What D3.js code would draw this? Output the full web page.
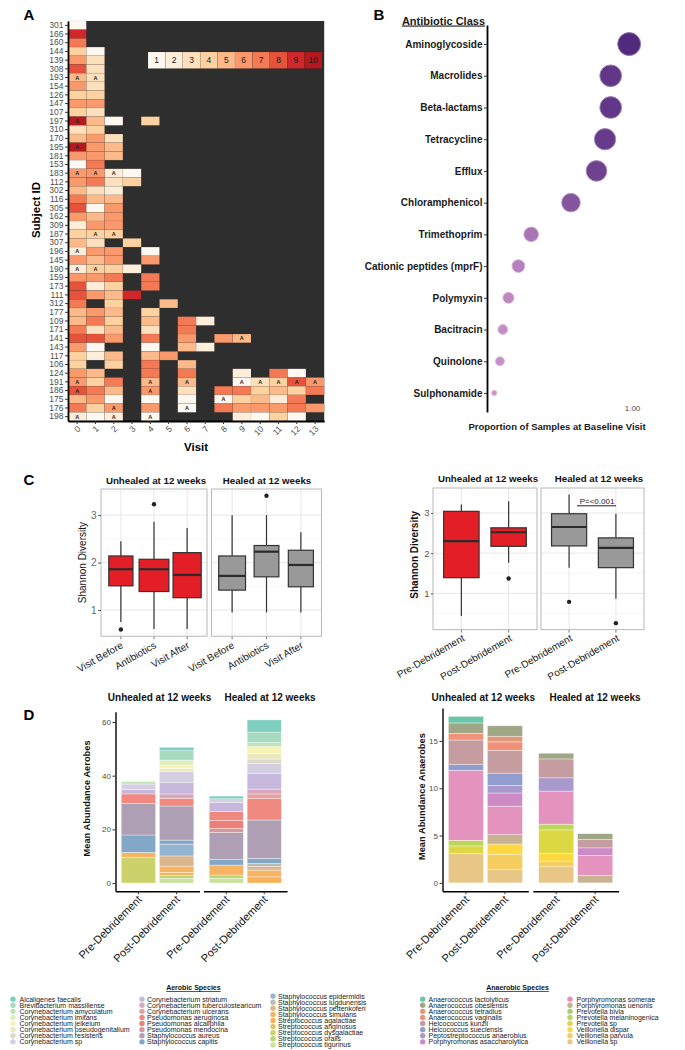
<!DOCTYPE html>
<html>
<head>
<meta charset="utf-8">
<script src="https://cdn.jsdelivr.net/npm/d3@7/dist/d3.min.js"></script>
<style>
html,body{margin:0;padding:0;background:#fff;}
svg{display:block;}
text{font-family:"Liberation Sans",Arial,Helvetica,sans-serif;}
</style>
</head>
<body>
<svg id="fig" width="685" height="1050" viewBox="0 0 685 1050"></svg>
<script>
// ======================= DATA =======================
// Panel A – heatmap
const subjectIds = ["301","166","160","144","139","308","193","154","126","147","107","197","310","170","195","181","153","183","112","302","116","305","162","309","187","307","196","145","190","159","173","111","312","177","109","171","141","143","117","106","124","191","186","175","176","198"];
const visitLabels = ["0","1","2","3","4","5","6","7","8","9","10","11","12","13"];
const heatLevels = [1,2,3,4,5,6,7,8,9,10];
const n = null;
const heatCounts = [
 [1],[9],[7],[4,1],[6,3],[8,3],[5,3],[6,3],[4,4],[6,6],[4,3],
 [10,5,1,n,4],
 [3,4],[5,6,3],[10,6,5],[6,6,5],[1,7],[6,6,2,1],[6,7,3,4],[5,3,2],[7,5,5],[8,1,6],[6,5,6],[2,6,6],[4,4,4],
 [5,3,n,4],
 [2,6,6,n,1],
 [6,5,6,n,6],
 [2,4,4,2],
 [6,6,7,n,7],
 [8,2,4,n,7],
 [8,6,5,9],
 [7,n,4,n,n,5],
 [5,6,5,n,4],
 [5,7,4,n,5,n,7,2],
 [7,3,5,n,3,n,7],
 [8,8,6,n,7,n,6,n,6,5],
 [6,1,n,n,1,n,5,2],
 [4,2,5,n,5,6],
 [4,n,4,n,7,n,5],
 [6,5,n,n,7,n,7,n,n,2,n,7,1],
 [6,4,7,n,5,n,5,n,n,1,3,4,8,6],
 [8,7,5,n,6,n,3,n,7,7,4,5,4,7],
 [5,6,1,n,1,n,1,n,1,4,5,2,7],
 [7,4,6,n,6,n,1,n,7,6,6,6,7,6],
 [2,1,2,n,1,n,n,n,n,2,1,4,1]
];
const antibioticVisits = [
 ["193",0],["193",1],["197",0],["195",0],["183",0],["183",1],["183",2],["187",1],["187",2],
 ["196",0],["190",0],["190",1],["141",9],
 ["191",0],["191",4],["191",6],["191",9],["191",10],["191",11],["191",12],["191",13],
 ["186",0],["186",4],["175",8],["176",2],["176",6],["198",0],["198",2],["198",4]
];

// Panel B – antibiotic resistance classes
const abxClasses = ["Aminoglycoside","Macrolides","Beta-lactams","Tetracycline","Efflux","Chloramphenicol","Trimethoprim","Cationic peptides (mprF)","Polymyxin","Bacitracin","Quinolone","Sulphonamide"];
const abxProportion = [0.98,0.85,0.85,0.81,0.75,0.57,0.29,0.20,0.13,0.09,0.07,0.03];
const abxTicks = [1];

// Panel C – Shannon diversity (lower whisker, Q1, median, Q3, upper whisker)
const visitGroups = ["Visit Before","Antibiotics","Visit After"];
const shannonVisitUnhealed = [[0.75,1.51,1.86,2.14,2.45],[0.60,1.39,1.86,2.07,2.86],[0.60,1.26,1.74,2.21,2.73]];
const shannonVisitUnhealedOut = [[0.59],[3.23],[]];
const shannonVisitHealed = [[0.95,1.42,1.72,2.14,3.00],[0.95,1.70,2.23,2.36,3.00],[0.95,1.49,1.95,2.26,2.64]];
const shannonVisitHealedOut = [[],[3.41],[]];
const debridementGroups = ["Pre-Debridement","Post-Debridement"];
const shannonDebUnhealed = [[0.44,1.39,2.30,3.04,3.21],[1.76,2.17,2.52,2.63,3.29]];
const shannonDebUnhealedOut = [[],[1.37]];
const shannonDebHealed = [[1.64,2.18,2.65,2.98,3.46],[0.87,1.64,2.13,2.38,2.98]];
const shannonDebHealedOut = [[0.79],[0.26]];
const shannonTicks = [1,2,3];
const pValueLabel = "P=<0.001";
const outcomeTitles = ["Unhealed at 12 weeks","Healed at 12 weeks"];

// Panel D – mean abundances
const aerobicSpecies = ["Alcaligenes faecalis","Brevibacterium massiliense","Corynebacterium amycolatum","Corynebacterium imitans","Corynebacterium jeikeium","Corynebacterium pseudogenitalium","Corynebacterium resistens","Corynebacterium sp","Corynebacterium striatum","Corynebacterium tuberculostearicum","Corynebacterium ulcerans","Pseudomonas aeruginosa","Pseudomonas alcaliphila","Pseudomonas mendocina","Staphylococcus aureus","Staphylococcus capitis","Staphylococcus epidermidis","Staphylococcus lugdunensis","Staphylococcus pettenkoferi","Staphylococcus simulans","Streptococcus agalactiae","Streptococcus anginosus","Streptococcus dysgalactiae","Streptococcus oralis","Streptococcus tigurinus"];
const aerobicUnhealedPre  = [0,0,0.9,0,0,0,0,2.0,1.7,0,0,3.5,0,0,11.8,6.5,0,0,0,1.8,0,0,9.6,0,0];
const aerobicUnhealedPost = [1.3,3.5,0,1.8,1.3,1.2,0,4.1,4.2,1.6,0,2.9,0,0,12.7,1.5,4.4,0,3.8,2.3,1.2,0,0,1.0,1.8];
const aerobicHealedPre    = [1.0,0,0,0,0,0,0,1.3,3.5,0,0,3.3,2.9,1.6,10.0,2.1,0,0,0,3.7,0,0,0,1.2,1.8];
const aerobicHealedPost   = [4.6,3.9,1.5,0,2.5,2.1,1.6,3.7,5.9,1.8,1.6,8.1,0,0,14.3,1.9,0,1.2,1.3,2.5,2.3,0,0,0,0];
const aerobicTicks = [0,20,40,60];

const anaerobicSpecies = ["Anaerococcus lactolyticus","Anaerococcus obesiensis","Anaerococcus tetradius","Anaerococcus vaginalis","Helcococcus kunzii","Helcococcus sueciensis","Peptostreptococcus anaerobius","Porphyromonas asaccharolytica","Porphyromonas somerae","Porphyromonas uenonis","Prevotella bivia","Prevotella melaninogenica","Prevotella sp","Veillonella dispar","Veillonella parvula","Veillonella sp"];
const anaerobicUnhealedPre  = [0.7,1.1,0,0.7,2.6,0.6,0,0,7.4,0,0,0.6,0.8,0,0,3.1];
const anaerobicUnhealedPost = [0,1.1,0.6,0.9,2.4,1.3,0.8,1.4,3.0,1.0,0,0,0,1.1,1.6,1.4];
const anaerobicHealedPre    = [0,0.6,0,0,2.0,0,1.4,0,3.5,0,0,0.6,2.5,0.8,0.6,1.7];
const anaerobicHealedPost   = [0,0.6,0,0,0.9,0,0,0.8,2.1,0.8,0,0,0,0,0,0];
const anaerobicTicks = [0,5,10,15];

// ======================= STYLE =======================
const FONT = '"Liberation Sans", Arial, Helvetica, sans-serif';
const heatPalette = ["#fff8f0","#feedd8","#fde0bd","#fdd2a0","#fcb98a","#fa9a6c","#f47a56","#e5533b","#d0272b","#b5191e"];
const outcomeFills = ["#e41e26","#999999"];
const aerobicColors = ["#7fcfc0","#a6dbc0","#c3e3b6","#deefbf","#f7f3b2","#ebe9c3","#dddacb","#d3cfe0","#c6b8dc","#d6a7bd","#e59f9f","#f0897f","#ee7f78","#d8979b","#ae9fb4","#83a7c7","#93b5d1","#bdbcae","#dab68e","#f6b363","#f5b25a","#dfc466","#ccd26b","#bad578","#c9e19b"];
const anaerobicColors = ["#6bc5a8","#a0a786","#dc9a78","#f0927a","#c59ca0","#909ecf","#aa99cd","#cc8bc5","#e493bf","#c9b292","#a6cf6b","#bcd65a","#dcd844","#fcd73f","#f4cc5f","#e8c686"];

const svg = d3.select("#fig");

function styleAxis(sel, o = {}) {
  const {size = 8, fill = "#4d4d4d", weight = "normal", tickColor = "#333", domainColor = "#000", domainWidth = 1, hideDomain = false} = o;
  sel.attr("font-family", FONT).attr("font-size", size);
  sel.selectAll(".tick text").attr("fill", fill).attr("font-weight", weight);
  sel.selectAll(".tick line").attr("stroke", tickColor);
  if (hideDomain) sel.select(".domain").remove();
  else sel.select(".domain").attr("stroke", domainColor).attr("stroke-width", domainWidth);
}
function label(g, x, y, s, o = {}) {
  const t = g.append("text").text(s)
    .attr("font-size", o.size || 10)
    .attr("font-weight", o.bold ? "bold" : "normal")
    .attr("fill", o.fill || "#000")
    .attr("text-anchor", o.anchor || "middle")
    .attr("transform", `translate(${x},${y})` + (o.rotate ? ` rotate(${o.rotate})` : "") + (o.sx ? ` scale(${o.sx},1)` : ""));
  if (o.underline) t.style("text-decoration", "underline");
  return t;
}

// Panel letters
[["A",29,20],["B",379,20],["C",29,485],["D",29,720]].forEach(([s,x,y]) => label(svg, x, y, s, {size:15, bold:true}));

// ======================= PANEL A =======================
{
  const g = svg.append("g");
  const x = d3.scaleBand().domain(visitLabels).range([68, 324.2]);
  const y = d3.scaleBand().domain(subjectIds).range([21, 421]);
  const color = d3.scaleOrdinal().domain(heatLevels).range(heatPalette);
  g.append("rect").attr("x", x.range()[0]).attr("y", y.range()[0])
    .attr("width", x.range()[1] - x.range()[0]).attr("height", y.range()[1] - y.range()[0]).attr("fill", "#2e2e2e");
  const cells = [];
  heatCounts.forEach((row, i) => row.forEach((v, j) => { if (v !== null) cells.push({id: subjectIds[i], visit: visitLabels[j], n: v}); }));
  g.selectAll("rect.cell").data(cells).join("rect").attr("class", "cell")
    .attr("x", d => x(d.visit)).attr("y", d => y(d.id))
    .attr("width", x.bandwidth()).attr("height", y.bandwidth())
    .attr("fill", d => color(d.n)).attr("stroke", "#000").attr("stroke-opacity", 0.12).attr("stroke-width", 0.5);
  g.selectAll("text.abx").data(antibioticVisits).join("text").attr("class", "abx")
    .attr("x", d => x(visitLabels[d[1]]) + x.bandwidth() / 2)
    .attr("y", d => y(d[0]) + y.bandwidth() / 2)
    .attr("dy", "0.36em").attr("text-anchor", "middle")
    .attr("font-size", 5.5).attr("font-weight", "bold").attr("fill", "#222").text("A");
  const xl = d3.scaleBand().domain(heatLevels).range([148, 322]);
  g.selectAll("rect.leg").data(heatLevels).join("rect").attr("class", "leg")
    .attr("x", d => xl(d)).attr("y", 52).attr("width", xl.bandwidth()).attr("height", 16.5)
    .attr("fill", d => color(d)).attr("stroke", "#000").attr("stroke-opacity", 0.15).attr("stroke-width", 0.5);
  g.selectAll("text.leg").data(heatLevels).join("text").attr("class", "leg")
    .attr("x", d => xl(d) + xl.bandwidth() / 2).attr("y", 60.3).attr("dy", "0.36em")
    .attr("text-anchor", "middle").attr("font-size", 8.5).attr("fill", "#1a1a1a").text(d => d);
  g.append("g").attr("transform", `translate(${x.range()[0]},0)`)
    .call(d3.axisLeft(y).tickSize(3).tickSizeOuter(0).tickPadding(1.5))
    .call(styleAxis, {size: 8.5, domainWidth: 1.8});
  const ax = g.append("g").attr("transform", `translate(0,${y.range()[1]})`)
    .call(d3.axisBottom(x).tickSize(3).tickSizeOuter(0))
    .call(styleAxis, {size: 8.5, domainWidth: 1.8});
  ax.selectAll(".tick text").attr("y", 0).attr("dy", 0).attr("text-anchor", "end")
    .attr("transform", "translate(4,8.5) rotate(-45)");
  label(g, 39.5, 210, "Subject ID", {size: 11.5, bold: true, rotate: -90});
  label(g, 196, 451, "Visit", {size: 11.5, bold: true});
}

// ======================= PANEL B =======================
{
  const g = svg.append("g");
  const y = d3.scalePoint().domain(abxClasses).range([25, 412]).padding(0.6);
  const x = d3.scaleLinear().domain([0, 1]).range([490, 632]);
  const [pMin, pMax] = d3.extent(abxProportion);
  const rArea = d3.scaleSqrt().domain([0, pMax - pMin]).range([0, 8.8]);
  const r = v => 2.7 + rArea(v - pMin);
  const c = d3.scaleLinear().domain([pMin, pMax]).range(["#cc94ca", "#51297d"]).interpolate(d3.interpolateLab);
  const pts = abxClasses.map((k, i) => ({k, v: abxProportion[i]}));
  g.selectAll("circle").data(pts).join("circle")
    .attr("cx", d => x(d.v)).attr("cy", d => y(d.k)).attr("r", d => r(d.v))
    .attr("fill", d => c(d.v))
    .attr("stroke", d => d3.interpolateRgb(c(d.v), "#fff")(0.4)).attr("stroke-width", 0.9);
  g.append("g").attr("transform", "translate(487,0)")
    .call(d3.axisLeft(y).tickSize(3).tickSizeOuter(0).tickPadding(1.5))
    .call(styleAxis, {size: 10, fill: "#1a1a1a", weight: "bold", domainWidth: 1.8});
  g.append("g").attr("transform", "translate(0,401)")
    .call(d3.axisBottom(x).tickValues(abxTicks).tickFormat(d3.format(".2f")).tickSize(0).tickPadding(4))
    .call(styleAxis, {size: 8, hideDomain: true});
  label(g, 485, 24.5, "Antibiotic Class", {size: 11, bold: true, anchor: "end", fill: "#1a1a1a", underline: true});
  label(g, 557, 430, "Proportion of Samples at Baseline Visit", {size: 9.5, bold: true, fill: "#1a1a1a"});
}

// ======================= PANEL C =======================
function drawBoxPanel(o) {
  const g = svg.append("g");
  const all = [];
  o.facets.forEach(f => { f.stats.forEach(s => all.push(...s)); f.out.forEach(s => all.push(...s)); });
  const [lo, hi] = d3.extent(all);
  const pad = (hi - lo) * 0.05;
  const y = d3.scaleLinear().domain([lo - pad, hi + pad]).range([o.bottom, o.top]);
  const minor = d3.range(Math.floor(y.domain()[0]) + 0.5, y.domain()[1], 1);
  o.facets.forEach((f, fi) => {
    const fg = g.append("g");
    const x = d3.scalePoint().domain(o.cats).range(f.range).padding(0.6);
    const [a, b] = f.range;
    fg.selectAll("line.mn").data(minor).join("line").attr("x1", a).attr("x2", b)
      .attr("y1", d => y(d)).attr("y2", d => y(d)).attr("stroke", "#f1f1f1").attr("stroke-width", 0.6);
    fg.selectAll("line.mj").data(shannonTicks).join("line").attr("x1", a).attr("x2", b)
      .attr("y1", d => y(d)).attr("y2", d => y(d)).attr("stroke", "#e4e4e4").attr("stroke-width", 0.9);
    fg.selectAll("line.vg").data(o.cats).join("line").attr("y1", o.top).attr("y2", o.bottom)
      .attr("x1", d => x(d)).attr("x2", d => x(d)).attr("stroke", "#e4e4e4").attr("stroke-width", 0.9);
    const step = x.step();
    o.cats.forEach((cat, i) => {
      const s = f.stats[i], cx = x(cat), w = step * f.widths[i];
      fg.append("line").attr("x1", cx).attr("x2", cx).attr("y1", y(s[4])).attr("y2", y(s[3])).attr("stroke", "#333").attr("stroke-width", 1.2);
      fg.append("line").attr("x1", cx).attr("x2", cx).attr("y1", y(s[1])).attr("y2", y(s[0])).attr("stroke", "#333").attr("stroke-width", 1.2);
      fg.append("rect").attr("x", cx - w / 2).attr("width", w).attr("y", y(s[3])).attr("height", y(s[1]) - y(s[3]))
        .attr("fill", outcomeFills[fi]).attr("stroke", "#333").attr("stroke-width", 1.2);
      fg.append("line").attr("x1", cx - w / 2).attr("x2", cx + w / 2).attr("y1", y(s[2])).attr("y2", y(s[2])).attr("stroke", "#2b2b2b").attr("stroke-width", 2.2);
      fg.selectAll(null).data(f.out[i]).join("circle").attr("cx", cx).attr("cy", d => y(d)).attr("r", 2.2).attr("fill", "#222");
      fg.append("line").attr("x1", cx).attr("x2", cx).attr("y1", o.bottom).attr("y2", o.bottom + 3).attr("stroke", "#555").attr("stroke-width", 0.8);
      label(fg, cx + o.lab[0], o.bottom + o.lab[1], cat, {size: o.labelSize, anchor: "end", rotate: -o.angle, fill: "#1a1a1a"});
    });
    fg.append("rect").attr("x", a).attr("y", o.top).attr("width", b - a).attr("height", o.bottom - o.top)
      .attr("fill", "none").attr("stroke", "#b8b8b8").attr("stroke-width", 1);
    label(fg, f.titleX, o.titleY, f.title, {size: 9.7, bold: true, fill: "#111"});
    if (fi === 0) {
      g.append("g").attr("transform", `translate(${a},0)`)
        .call(d3.axisLeft(y).tickValues(shannonTicks).tickFormat(d3.format("d")).tickSize(o.tickLen).tickPadding(1.5))
        .call(styleAxis, {size: o.tickSize, fill: o.tickFill, tickColor: "#555", hideDomain: true});
    }
  });
  label(g, o.ylabX, (o.top + o.bottom) / 2 + o.ylabDy, "Shannon Diversity", {size: 10, bold: o.ylabBold, rotate: -90, fill: "#111"});
  return {g, y};
}
drawBoxPanel({
  cats: visitGroups, top: 489, bottom: 636.2, titleY: 484,
  lab: [3, 11], angle: 30, labelSize: 10, tickSize: 10, tickFill: "#666", tickLen: 3,
  ylabX: 85.5, ylabDy: 0, ylabBold: false,
  facets: [
    {range: [101, 207], title: outcomeTitles[0], titleX: 156, stats: shannonVisitUnhealed, out: shannonVisitUnhealedOut, widths: [0.73, 0.9, 0.85]},
    {range: [211.5, 321.5], title: outcomeTitles[1], titleX: 267, stats: shannonVisitHealed, out: shannonVisitHealedOut, widths: [0.78, 0.72, 0.73]}
  ]
});
const cRight = drawBoxPanel({
  cats: debridementGroups, top: 488, bottom: 629.6, titleY: 482,
  lab: [4, 10.5], angle: 30, labelSize: 10, tickSize: 9.5, tickFill: "#555", tickLen: 2,
  ylabX: 418, ylabDy: -4, ylabBold: true,
  facets: [
    {range: [433, 537], title: outcomeTitles[0], titleX: 488, stats: shannonDebUnhealed, out: shannonDebUnhealedOut, widths: [0.75, 0.75]},
    {range: [541, 644], title: outcomeTitles[1], titleX: 599, stats: shannonDebHealed, out: shannonDebHealedOut, widths: [0.75, 0.75]}
  ]
});
label(cRight.g, 597, 504, pValueLabel, {size: 8, fill: "#222"});
cRight.g.append("line").attr("x1", 577).attr("x2", 616).attr("y1", 505.8).attr("y2", 505.8).attr("stroke", "#222").attr("stroke-width", 1);

// ======================= PANEL D =======================
function drawStackPanel(o) {
  const g = svg.append("g");
  const maxTotal = d3.max(o.facets.flatMap(f => f.bars.map(b => d3.sum(b))));
  const y = d3.scaleLinear().domain([-0.05 * maxTotal, 1.05 * maxTotal]).range([891.2, o.top]);
  const keys = o.species.slice().reverse();
  o.facets.forEach((f, fi) => {
    const x = d3.scaleBand().domain(debridementGroups).range(f.range).paddingInner(0.1).paddingOuter(0.15);
    const rows = debridementGroups.map((cond, i) => {
      const r = {cond};
      o.species.forEach((s, k) => r[s] = f.bars[i][k]);
      return r;
    });
    const series = d3.stack().keys(keys)(rows);
    const fg = g.append("g");
    series.forEach(ser => {
      const col = o.colors[o.species.indexOf(ser.key)];
      fg.selectAll(null).data(ser.filter(d => d[1] - d[0] > 0)).join("rect")
        .attr("x", d => x(d.data.cond)).attr("width", x.bandwidth())
        .attr("y", d => y(d[1])).attr("height", d => y(d[0]) - y(d[1]))
        .attr("fill", col).attr("stroke", "#fff").attr("stroke-opacity", 0.6).attr("stroke-width", 0.6);
    });
    const ax = fg.append("g").attr("transform", `translate(0,${y.range()[0]})`)
      .call(d3.axisBottom(x).tickSize(3).tickSizeOuter(0))
      .call(styleAxis, {size: 11, fill: "#111", domainWidth: 1.4});
    ax.selectAll(".tick text").attr("y", 0).attr("dy", 0).attr("text-anchor", "end")
      .attr("transform", "translate(4,9) rotate(-45)");
    label(fg, f.titleX, 701, f.title, {size: 10, bold: true, fill: "#111"});
    if (fi === 0) {
      g.append("g").attr("transform", `translate(${f.range[0]},0)`)
        .call(d3.axisLeft(y).tickValues(o.ticks).tickSize(3).tickSizeOuter(0).tickPadding(1.5))
        .call(styleAxis, {size: 8, fill: "#4d4d4d", domainWidth: 1.4});
    }
  });
  label(g, o.ylabX, (o.top + 891.2) / 2 - 3, o.ylab, {size: 9.3, bold: true, rotate: -90, fill: "#111"});
}
drawStackPanel({
  species: aerobicSpecies, colors: aerobicColors, ticks: aerobicTicks, top: 711.7,
  ylab: "Mean Abundance Aerobes", ylabX: 89.5,
  facets: [
    {range: [115.5, 199.5], title: outcomeTitles[0], titleX: 159.5, bars: [aerobicUnhealedPre, aerobicUnhealedPost]},
    {range: [203.5, 287], title: outcomeTitles[1], titleX: 270, bars: [aerobicHealedPre, aerobicHealedPost]}
  ]
});
drawStackPanel({
  species: anaerobicSpecies, colors: anaerobicColors, ticks: anaerobicTicks, top: 708,
  ylab: "Mean Abundance Anaerobes", ylabX: 424.5,
  facets: [
    {range: [442.5, 528.3], title: outcomeTitles[0], titleX: 483.3, bars: [anaerobicUnhealedPre, anaerobicUnhealedPost]},
    {range: [532.8, 618.6], title: outcomeTitles[1], titleX: 595, bars: [anaerobicHealedPre, anaerobicHealedPost]}
  ]
});

// ======================= LEGENDS =======================
function drawLegend(o) {
  const g = svg.append("g");
  label(g, o.titleX, o.titleY, o.title, {size: 7, bold: true, fill: "#111", underline: true});
  o.columns.forEach(([s, e, dotX, textX]) => {
    const items = o.species.slice(s, e);
    const cnt = items.length;
    const rowY = d3.scaleLinear().domain([0, cnt - 1]).range([o.centerY - (cnt - 1) / 2 * o.rowH, o.centerY + (cnt - 1) / 2 * o.rowH]);
    g.selectAll(null).data(items).join("circle")
      .attr("cx", dotX).attr("cy", (d, i) => rowY(i)).attr("r", 2.7).attr("fill", (d, i) => o.colors[s + i]);
    g.selectAll(null).data(items).join("text")
      .attr("transform", (d, i) => `translate(${textX},${rowY(i)})`)
      .attr("dy", "0.35em").attr("font-size", 7).attr("fill", "#1a1a1a").text(d => d);
  });
}
drawLegend({title: "Aerobic Species", titleX: 193.4, titleY: 990, species: aerobicSpecies, colors: aerobicColors,
  centerY: 1020.5, rowH: 6.1, columns: [[0, 8, 13, 19.5], [8, 16, 142, 147], [16, 25, 273, 278]]});
drawLegend({title: "Anaerobic Species", titleX: 517.5, titleY: 990, species: anaerobicSpecies, colors: anaerobicColors,
  centerY: 1020.5, rowH: 6.1, columns: [[0, 8, 422.7, 428.5], [8, 16, 570, 576.5]]});
</script>
</body>
</html>
